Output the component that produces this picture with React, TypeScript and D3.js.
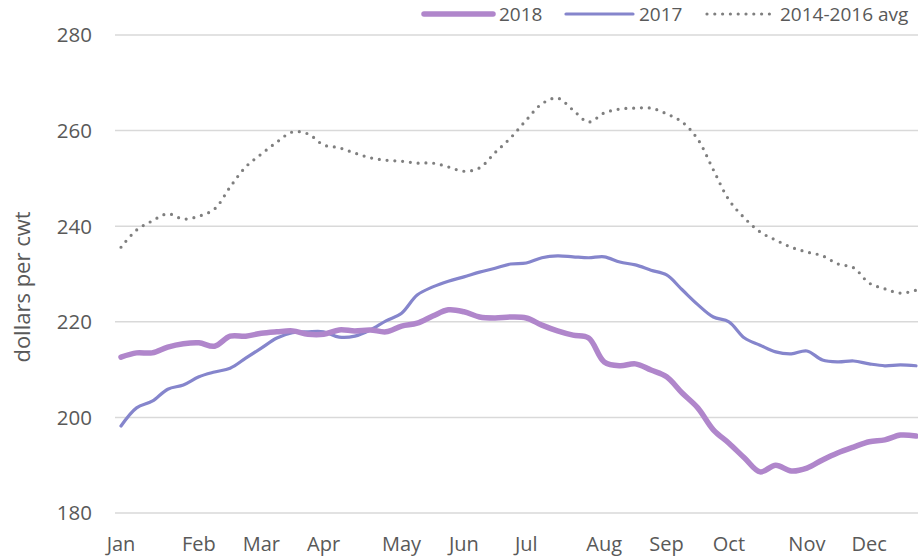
import React, { useEffect, useRef } from 'react';
import * as d3 from 'd3';

const weeks = d3.range(52);

const monthLabels = ['Jan', 'Feb', 'Mar', 'Apr', 'May', 'Jun', 'Jul', 'Aug', 'Sep', 'Oct', 'Nov', 'Dec'];
const monthWeeks = [0, 5, 9, 13, 18, 22, 26, 31, 35, 39, 44, 48];

const yTicks = [180, 200, 220, 240, 260, 280];

const values2018 = [
    212.6, 213.5, 213.5, 214.7, 215.4, 215.6, 214.9, 217.0, 217.0, 217.6,
    217.9, 218.1, 217.4, 217.4, 218.3, 218.1, 218.3, 217.9, 219.1, 219.7,
    221.2, 222.5, 222.1, 221.0, 220.8, 221.0, 220.8, 219.3, 218.1, 217.2,
    216.6, 211.6, 210.8, 211.2, 209.9, 208.5, 205.1, 202.0, 197.4, 194.6,
    191.5, 188.6, 190.0, 188.8, 189.4, 191.1, 192.6, 193.8, 194.9, 195.3,
    196.3, 196.1
];

const values2017 = [
    198.2, 202.0, 203.4, 205.9, 206.8, 208.5, 209.5, 210.3, 212.4, 214.5,
    216.6, 217.7, 217.9, 217.9, 216.8, 217.0, 218.3, 220.2, 221.8, 225.6,
    227.3, 228.5, 229.4, 230.4, 231.2, 232.1, 232.3, 233.4, 233.8, 233.6,
    233.4, 233.6, 232.5, 231.9, 230.8, 229.8, 226.7, 223.6, 221.0, 220.0,
    216.6, 215.1, 213.7, 213.3, 213.9, 212.0, 211.6, 211.8, 211.2, 210.8,
    211.0, 210.8
];

const valuesAvg = [
    235.6, 239.2, 241.1, 242.6, 241.5, 242.1, 243.6, 248.2, 252.4, 255.1,
    257.6, 259.7, 259.3, 257.0, 256.4, 255.3, 254.3, 253.8, 253.6, 253.2,
    253.2, 252.4, 251.5, 252.2, 255.4, 258.5, 262.2, 265.6, 266.8, 264.3,
    261.8, 263.7, 264.5, 264.7, 264.7, 263.5, 261.8, 258.2, 251.8, 245.5,
    241.7, 238.8, 237.1, 235.6, 234.6, 233.8, 232.1, 231.3, 228.1, 226.9,
    226.0, 226.6
];

const seriesNames = ['2018', '2017', '2014-2016 avg'];

const width = 918;
const height = 559;
const textColor = '#595959';
const font = '"Open Sans", sans-serif';

const App: React.FC = () => {
    const svgRef = useRef<SVGSVGElement>(null);

    useEffect(() => {
        if (!svgRef.current) return;
        const svg = d3.select(svgRef.current);
        svg.selectAll('*').remove();

        const plotLeft = 115;
        const plotRight = 918;

        const xScale = d3.scaleLinear()
            .domain([0, 51])
            .range([121, 916]);

        const yScale = d3.scaleLinear()
            .domain([180, 280])
            .range([513, 35]);

        // gridlines
        svg.append('g')
            .selectAll('line')
            .data(yTicks)
            .join('line')
            .attr('x1', plotLeft)
            .attr('x2', plotRight)
            .attr('y1', d => yScale(d))
            .attr('y2', d => yScale(d))
            .attr('stroke', '#d9d9d9')
            .attr('stroke-width', 1.5);

        // y tick labels
        svg.append('g')
            .selectAll('text')
            .data(yTicks)
            .join('text')
            .attr('x', 92)
            .attr('y', d => yScale(d))
            .attr('dy', '0.36em')
            .attr('text-anchor', 'end')
            .attr('fill', textColor)
            .style('font-family', font)
            .style('font-size', '20.5px')
            .text(d => d);

        // x labels
        svg.append('g')
            .selectAll('text')
            .data(monthLabels)
            .join('text')
            .attr('x', (d, i) => xScale(monthWeeks[i]))
            .attr('y', 551)
            .attr('text-anchor', 'middle')
            .attr('fill', textColor)
            .style('font-family', font)
            .style('font-size', '20px')
            .text(d => d);

        // y axis title
        svg.append('text')
            .attr('transform', `translate(30, 287) rotate(-90)`)
            .attr('text-anchor', 'middle')
            .attr('fill', textColor)
            .style('font-family', font)
            .style('font-size', '22px')
            .text('dollars per cwt');

        const line = d3.line<number>()
            .x((d, i) => xScale(weeks[i]))
            .y(d => yScale(d))
            .curve(d3.curveCatmullRom);

        svg.append('path')
            .datum(valuesAvg)
            .attr('fill', 'none')
            .attr('stroke', '#7f7f7f')
            .attr('stroke-width', 3.2)
            .attr('stroke-linecap', 'round')
            .attr('stroke-dasharray', '0 7.8')
            .attr('d', line);

        svg.append('path')
            .datum(values2017)
            .attr('fill', 'none')
            .attr('stroke', '#8585cc')
            .attr('stroke-width', 3.2)
            .attr('stroke-linecap', 'round')
            .attr('d', line);

        svg.append('path')
            .datum(values2018)
            .attr('fill', 'none')
            .attr('stroke', '#b086cb')
            .attr('stroke-width', 5.5)
            .attr('stroke-linecap', 'round')
            .attr('d', line);

        // legend
        const legend = [
            { name: seriesNames[0], x1: 424, x2: 493, tx: 499, color: '#b086cb', w: 5.5, dash: null },
            { name: seriesNames[1], x1: 566, x2: 633, tx: 639, color: '#8585cc', w: 3.2, dash: null },
            { name: seriesNames[2], x1: 707, x2: 775, tx: 780, color: '#7f7f7f', w: 3.2, dash: '0 7.8' },
        ];
        const lg = svg.append('g');
        legend.forEach(l => {
            const ln = lg.append('line')
                .attr('x1', l.x1)
                .attr('x2', l.x2)
                .attr('y1', 14)
                .attr('y2', 14)
                .attr('stroke', l.color)
                .attr('stroke-width', l.w)
                .attr('stroke-linecap', 'round');
            if (l.dash) ln.attr('stroke-dasharray', l.dash);
            lg.append('text')
                .attr('x', l.tx)
                .attr('y', 14)
                .attr('dy', '0.36em')
                .attr('fill', textColor)
                .style('font-family', font)
                .style('font-size', '19px')
                .text(l.name);
        });
    }, []);

    return (
        <svg ref={svgRef} width={width} height={height}
            style={{ position: 'absolute', left: 0, top: 0, background: '#fff' }}></svg>
    );
};

export default App;
